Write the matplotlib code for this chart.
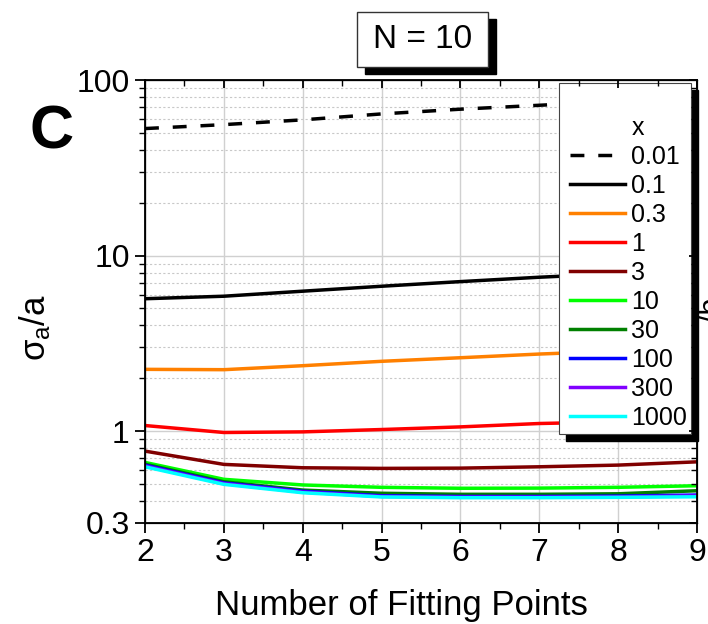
import matplotlib
matplotlib.use("Agg")
import matplotlib.pyplot as plt
from matplotlib.lines import Line2D
from matplotlib.legend_handler import HandlerLine2D
from matplotlib.patches import Rectangle
from matplotlib.transforms import ScaledTranslation
from matplotlib.ticker import FixedLocator, NullFormatter

plt.rcParams['font.family'] = ['Liberation Sans', 'DejaVu Sans']
plt.rcParams['mathtext.fontset'] = 'custom'
plt.rcParams['mathtext.rm'] = 'Liberation Sans'
plt.rcParams['mathtext.it'] = 'Liberation Sans'

# fitting points on the x axis
n_points = [2, 3, 4, 5, 6, 7, 8, 9]

# sigma_a / a for each x value
x_labels = ['0.01', '0.1', '0.3', '1', '3', '10', '30', '100', '300', '1000']
s_001 = [52.9, 55.7, 59.3, 64.1, 68.2, 71.8, 75.5, 79.0]
s_01 = [5.68, 5.87, 6.27, 6.69, 7.11, 7.53, 7.9, 8.3]
s_03 = [2.25, 2.24, 2.36, 2.50, 2.62, 2.75, 2.86, 2.96]
s_1 = [1.077, 0.983, 0.991, 1.022, 1.058, 1.106, 1.13, 1.155]
s_3 = [0.770, 0.647, 0.619, 0.614, 0.616, 0.627, 0.641, 0.669]
s_10 = [0.664, 0.532, 0.494, 0.479, 0.473, 0.474, 0.479, 0.489]
s_30 = [0.649, 0.515, 0.462, 0.443, 0.437, 0.437, 0.440, 0.458]
s_100 = [0.641, 0.508, 0.455, 0.429, 0.425, 0.425, 0.427, 0.433]
s_300 = [0.634, 0.503, 0.450, 0.425, 0.421, 0.421, 0.423, 0.428]
s_1000 = [0.627, 0.498, 0.446, 0.422, 0.418, 0.418, 0.420, 0.423]

series = [s_001, s_01, s_03, s_1, s_3, s_10, s_30, s_100, s_300, s_1000]
colors = ['black', 'black', '#FF8000', '#FF0000', '#800000', '#00FF00',
          '#008000', '#0000FF', '#8000FF', '#00FFFF']

fig = plt.figure(figsize=(7.08, 6.24), dpi=100)
ax = fig.add_axes([145/708, 101/624, 552/708, 443/624])

for vals, lab, c in zip(series, x_labels, colors):
    if lab == '0.01':
        ax.plot(n_points, vals, color=c, lw=2.5, dashes=(4, 4), label=lab)
    else:
        ax.plot(n_points, vals, color=c, lw=2.5, label=lab)

ax.set_yscale('log')
ax.set_xlim(2, 9)
ax.set_ylim(0.3, 100)

ax.set_xticks(n_points)
ax.xaxis.set_minor_locator(FixedLocator([2.5, 3.5, 4.5, 5.5, 6.5, 7.5, 8.5]))
ax.set_yticks([0.3, 1, 10, 100])
ax.set_yticklabels(['0.3', '1', '10', '100'])
minor_y = [0.4, 0.5, 0.6, 0.7, 0.8, 0.9] + list(range(2, 10)) + list(range(20, 100, 10))
ax.yaxis.set_minor_locator(FixedLocator(minor_y))
ax.yaxis.set_minor_formatter(NullFormatter())

ax.tick_params(which='major', direction='out', length=7, width=1.3, labelsize=23, pad=4)
ax.tick_params(which='minor', direction='out', length=4, width=1.0)

ax.grid(True, which='major', axis='x', color='#d0d0d0', lw=1.0)
ax.grid(True, which='major', axis='y', color='#d0d0d0', lw=1.0)
ax.yaxis.grid(True, which='minor', color='#c8c8c8', lw=0.8, linestyle=(0, (2, 2)))
ax.set_axisbelow(True)
for sp in ax.spines.values():
    sp.set_linewidth(1.3)

# top and right ticks point inward
top = ax.twiny()
top.set_xlim(ax.get_xlim())
top.set_xticks(n_points)
top.xaxis.set_minor_locator(FixedLocator([2.5, 3.5, 4.5, 5.5, 6.5, 7.5, 8.5]))
top.tick_params(which='both', direction='in', labeltop=False)
top.tick_params(which='major', length=6, width=1.3)
top.tick_params(which='minor', length=4, width=1.0)
right = ax.twinx()
right.set_yscale('log')
right.set_ylim(ax.get_ylim())
right.set_yticks([0.3, 1, 10, 100])
right.yaxis.set_minor_locator(FixedLocator(minor_y))
right.tick_params(which='both', direction='in', labelright=False)
right.tick_params(which='major', length=6, width=1.3)
right.tick_params(which='minor', length=4, width=1.0)

fig.text(401/708, 1 - 615/624, 'Number of Fitting Points', fontsize=25,
         ha='center', va='baseline')
fig.text(35/708, 1 - 328/624, r'$\sigma_a$/a', fontsize=25, rotation=90,
         ha='center', va='center')
fig.text(52/708, 1 - 133/624, 'C', fontsize=44, fontweight='bold', ha='center', va='center')

# legend: blank row, then the "x" heading, then one row per series
handles, labels = ax.get_legend_handles_labels()
blank = Line2D([], [], lw=0)
handles = [blank, blank] + handles
labels = [' ', 'x'] + labels
leg = ax.legend(handles, labels, loc='upper left', bbox_to_anchor=(0.75, 0.993),
                borderaxespad=0, fontsize=18, frameon=True, fancybox=False,
                framealpha=1, edgecolor='#444444', handlelength=2.5,
                handletextpad=0.25, labelspacing=0.2, borderpad=0.15,
                handler_map={Line2D: HandlerLine2D(xpad=0.28)})
leg.get_frame().set_linewidth(0.8)
leg.set_zorder(10)

# black drop shadows behind the legend and the title box
fig.canvas.draw()
renderer = fig.canvas.get_renderer()
bb = leg.get_window_extent(renderer).transformed(ax.transAxes.inverted())
shift = ScaledTranslation(7/100, -7/100, fig.dpi_scale_trans)
ax.add_patch(Rectangle((bb.x0, bb.y0), bb.width, bb.height, color='black',
                       transform=ax.transAxes + shift, clip_on=False, zorder=9))

bx, by, bw, bh = 357/708, 1 - 67/624, 131/708, 55/624
fig.patches.append(Rectangle((bx + 8/708, by - 7/624), bw, bh, color='black',
                             transform=fig.transFigure, figure=fig))
fig.patches.append(Rectangle((bx, by), bw, bh, facecolor='white', edgecolor='#333333',
                             lw=1.0, transform=fig.transFigure, figure=fig))
fig.text(bx + bw/2, by + bh/2, 'N = 10', fontsize=24, ha='center', va='center')

fig.text(698/708, 1 - 310/624, '/b', fontsize=22, rotation=90, ha='left', va='center')

fig.savefig('out.png', dpi=100)
